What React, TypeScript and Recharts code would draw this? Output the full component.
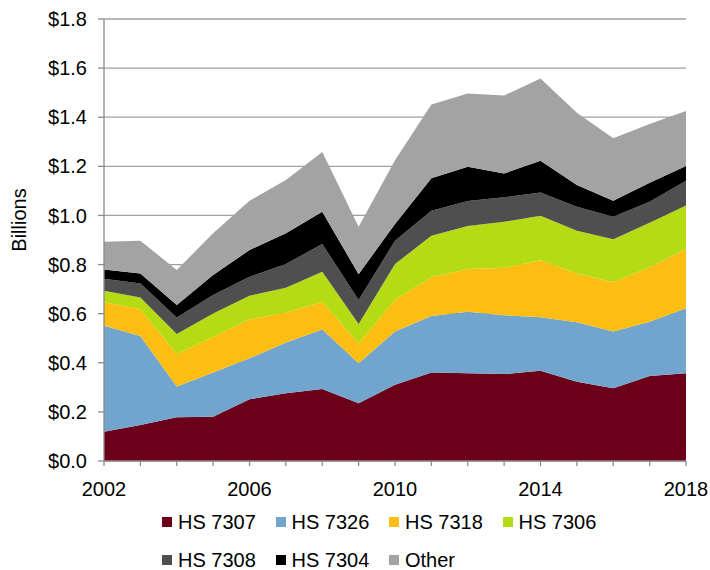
import React from 'react';
import { AreaChart, Area, XAxis, YAxis, CartesianGrid } from 'recharts';

const years = [2002, 2003, 2004, 2005, 2006, 2007, 2008, 2009, 2010, 2011, 2012, 2013, 2014, 2015, 2016, 2017, 2018];
const hs7307 = [0.119, 0.147, 0.178, 0.180, 0.251, 0.276, 0.293, 0.235, 0.311, 0.360, 0.357, 0.354, 0.368, 0.323, 0.296, 0.346, 0.357];
const hs7326 = [0.432, 0.362, 0.125, 0.180, 0.167, 0.207, 0.243, 0.163, 0.216, 0.230, 0.251, 0.240, 0.217, 0.242, 0.231, 0.221, 0.265];
const hs7318 = [0.095, 0.109, 0.133, 0.146, 0.159, 0.121, 0.113, 0.081, 0.130, 0.158, 0.174, 0.193, 0.233, 0.199, 0.201, 0.222, 0.241];
const hs7306 = [0.047, 0.048, 0.081, 0.095, 0.096, 0.102, 0.122, 0.079, 0.145, 0.169, 0.175, 0.187, 0.181, 0.174, 0.175, 0.181, 0.177];
const hs7308 = [0.049, 0.057, 0.067, 0.075, 0.077, 0.096, 0.113, 0.098, 0.095, 0.102, 0.102, 0.100, 0.094, 0.097, 0.092, 0.086, 0.101];
const hs7304 = [0.038, 0.041, 0.051, 0.081, 0.109, 0.125, 0.131, 0.105, 0.068, 0.132, 0.139, 0.097, 0.130, 0.089, 0.065, 0.077, 0.060];
const other = [0.113, 0.133, 0.143, 0.170, 0.201, 0.217, 0.243, 0.193, 0.260, 0.301, 0.299, 0.317, 0.335, 0.294, 0.254, 0.239, 0.224];

const yTicks = [0, 0.2, 0.4, 0.6, 0.8, 1.0, 1.2, 1.4, 1.6, 1.8];
const xLabelYears = [2002, 2006, 2010, 2014, 2018];

const seriesNames = ['HS 7307', 'HS 7326', 'HS 7318', 'HS 7306', 'HS 7308', 'HS 7304', 'Other'];
const seriesValues = [hs7307, hs7326, hs7318, hs7306, hs7308, hs7304, other];
const seriesColors = ['#6C0019', '#72A5CD', '#FDBE14', '#B4DB14', '#4F4F50', '#000000', '#A3A3A3'];

const data = years.map((y, i) => {
  const row: Record<string, number> = { year: y };
  seriesNames.forEach((n, k) => {
    row[n] = seriesValues[k][i];
  });
  return row;
});

const FONT = '"Liberation Sans", Arial, sans-serif';

const legendRows = [
  [0, 1, 2, 3],
  [4, 5, 6],
];

export default function App() {
  return (
    <div style={{ position: 'absolute', left: 0, top: 0, width: 710, height: 570, fontFamily: FONT, background: '#fff' }}>
      <AreaChart width={710} height={570} data={data} margin={{ top: 19, right: 24, left: 0, bottom: 79 }}>
        <CartesianGrid horizontal={true} vertical={false} stroke="#A0A0A0" strokeWidth={1.3} />
        <XAxis
          dataKey="year"
          type="number"
          domain={[2002, 2018]}
          ticks={years}
          interval={0}
          tickFormatter={(v: number) => (xLabelYears.includes(v) ? String(v) : '')}
          stroke="#8C8C8C"
          strokeWidth={1.3}
          tickSize={5}
          tickMargin={16}
          height={30}
          tick={{ fontSize: 20, fill: '#000', fontFamily: FONT }}
        />
        <YAxis
          domain={[0, 1.8]}
          ticks={yTicks}
          interval={0}
          tickFormatter={(v: number) => `$${v.toFixed(1)}`}
          stroke="#8C8C8C"
          strokeWidth={1.3}
          tickSize={6}
          tickMargin={11}
          width={104}
          tick={{ fontSize: 20, fill: '#000', fontFamily: FONT }}
          label={{
            content: () => (
              <text x={26} y={220} transform="rotate(-90 26 220)" textAnchor="middle" fontSize={20} fill="#000" fontFamily={FONT}>
                Billions
              </text>
            ),
          }}
        />
        {seriesNames.map((n, k) => (
          <Area
            key={n}
            type="linear"
            dataKey={n}
            stackId="a"
            stroke="none"
            fill={seriesColors[k]}
            fillOpacity={1}
            isAnimationActive={false}
            dot={false}
            activeDot={false}
          />
        ))}
      </AreaChart>
      {legendRows.map((row, r) => (
        <div key={r} style={{ position: 'absolute', left: 162, top: r === 0 ? 509 : 547, display: 'flex', height: 26 }}>
          {row.map((k) => (
            <div key={k} style={{ width: 113.5, display: 'flex', alignItems: 'center', fontSize: 20, color: '#000' }}>
              <span style={{ display: 'inline-block', width: 10, height: 10, background: seriesColors[k], marginRight: 6 }} />
              <span>{seriesNames[k]}</span>
            </div>
          ))}
        </div>
      ))}
    </div>
  );
}
